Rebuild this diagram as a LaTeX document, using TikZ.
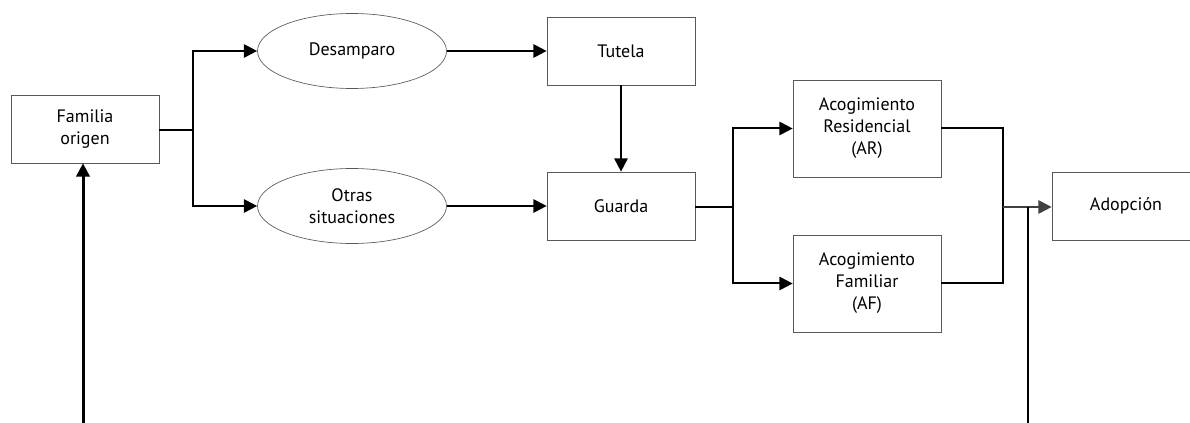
\documentclass[tikz,border=0pt]{standalone}
\usepackage{fontspec}
\setmainfont{PT Sans}
\usetikzlibrary{arrows.meta}
\usetikzlibrary{shapes.geometric}

\tikzset{
  box/.style={draw=black!65, line width=0.5pt, align=center, inner sep=0pt,
    minimum width=111pt, minimum height=51pt},
  tallbox/.style={box, minimum height=72.75pt},
  oval/.style={ellipse, draw=black!65, line width=0.5pt, align=center, inner sep=0pt,
    minimum width=141.75pt, minimum height=56.25pt},
  link/.style={line width=1.5pt},
  flow/.style={link, -{Triangle[length=10pt, width=10pt]}},
}

\begin{document}
\begin{tikzpicture}[x=0.75pt, y=-0.75pt, font=\fontsize{13.5}{16.5}\selectfont]
\useasboundingbox (0,0) rectangle (1190,423);

\node[box] (familia) at (85,129) {Familia\\origen};
\node[oval] (desamparo) at (352,51) {Desamparo};
\node[oval] (otras) at (352,206) {Otras\\situaciones};
\node[box] (tutela) at (621,51) {Tutela};
\node[box] (guarda) at (621,206) {Guarda};
\node[tallbox] (ar) at (867,128.5) {Acogimiento\\Residencial\\(AR)};
\node[tallbox] (af) at (867,283.5) {Acogimiento\\Familiar\\(AF)};
\node[box] (adopcion) at (1126,206) {Adopción};

%%%%%%%%%%%%%%%%%%%%%%%%%%%%%%%%%%%%%%%%

\coordinate (fork1) at (193,130);
\coordinate (fork2) at (733,207);
\coordinate (join) at (1003,207);
\coordinate (returnL) at (83,423);
\coordinate (returnR) at (1028,423);

\draw[link] (familia.east |- fork1) -- (fork1);
\draw[flow] (fork1) |- (desamparo);
\draw[flow] (fork1) |- (otras);
\draw[flow] (desamparo) -- (tutela);
\draw[flow] (otras) -- (guarda);
\draw[flow] (tutela) -- (guarda);
\draw[link] (guarda.east |- fork2) -- (fork2);
\draw[flow] (fork2) |- (ar);
\draw[flow] (fork2) |- (af);
\draw[link] (ar) -| (join);
\draw[link] (af) -| (join);
\draw[flow, draw=black!75, fill=black!75] (join) -- (adopcion.west |- join);
\draw[link] (returnR) -- (returnR |- join);
\draw[flow, line width=2.25pt] (returnL) -- (returnL |- familia.south);

\end{tikzpicture}
\end{document}
